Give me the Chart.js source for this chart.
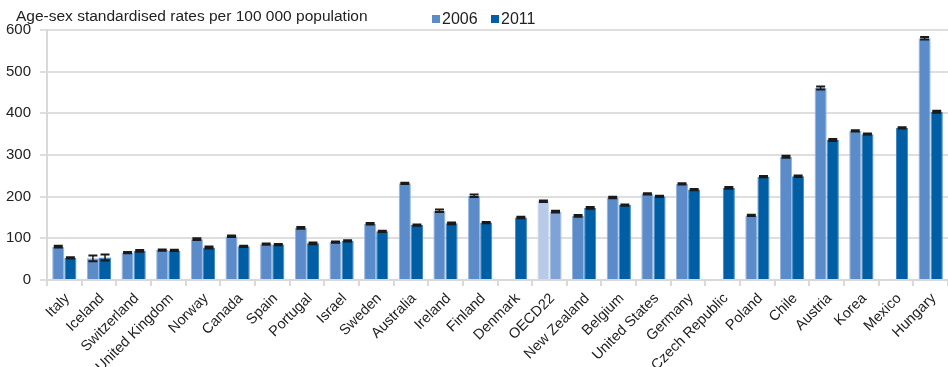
<!DOCTYPE html>
<html>
<head>
<meta charset="utf-8">
<script src="https://cdn.jsdelivr.net/npm/chart.js@4/dist/chart.umd.min.js"></script>
<style>
  html, body { margin: 0; padding: 0; background: #fff; }
  #wrap { width: 948px; height: 367px; position: relative; }
</style>
</head>
<body>
<div id="wrap"><canvas id="c"></canvas></div>
<script>
// Countries ordered by the 2011 rate, OECD average in the middle
const countries = ["Italy", "Iceland", "Switzerland", "United Kingdom", "Norway", "Canada", "Spain",
  "Portugal", "Israel", "Sweden", "Australia", "Ireland", "Finland", "Denmark", "OECD22",
  "New Zealand", "Belgium", "United States", "Germany", "Czech Republic", "Poland", "Chile",
  "Austria", "Korea", "Mexico", "Hungary"];

// Age-sex standardised rates per 100 000 population
const rate2006 = [80, 52, 66, 72, 98, 105, 86, 125, 91, 135, 232, 166, 202, null, 189,
  154, 198, 207, 231, null, 155, 296, 461, 358, null, 580];
const rate2011 = [53, 54, 70, 71, 78, 81, 85, 88, 94, 117, 132, 136, 138, 150, 164,
  173, 180, 201, 217, 221, 248, 249, 336, 350, 365, 404];

// Half-width of the confidence interval around each rate
const err2006 = [2, 7, 1.5, 1.5, 2, 2, 1.5, 2, 1.5, 2, 1.5, 3, 3, null, 2,
  2, 2, 1.5, 1.5, null, 1.5, 2.5, 3.5, 1.5, null, 3];
const err2011 = [1.5, 7, 2, 1.5, 2.5, 1.5, 1.5, 2, 1.5, 1.5, 1.5, 2, 1.5, 2, 2,
  2, 1.5, 1.5, 1.5, 2, 1.5, 2, 2.5, 1.5, 1.5, 2.5];

const yTicks = [0, 100, 200, 300, 400, 500, 600];
const seriesNames = ["2006", "2011"];

const FONT = '"Liberation Sans", Arial, Helvetica, sans-serif';
const TEXT = '#222222';

const fill06 = '#5b8cc9', border06 = '#93b5df';
const fill11 = '#005ea5', border11 = '#3f86c2';
const avgFill06 = '#b8cae7', avgBorder06 = '#d3def0';
const avgFill11 = '#7fa3d6', avgBorder11 = '#a9c2e6';

const isAvg = c => c === 'OECD22';
const colors06 = countries.map(c => isAvg(c) ? avgFill06 : fill06);
const colors11 = countries.map(c => isAvg(c) ? avgFill11 : fill11);
const borders06 = countries.map(c => isAvg(c) ? avgBorder06 : border06);
const borders11 = countries.map(c => isAvg(c) ? avgBorder11 : border11);

// Error bars drawn on top of each bar from the err arrays
const errorBars = {
  id: 'errorBars',
  afterDatasetsDraw(chart) {
    const ctx = chart.ctx;
    const y = chart.scales.y;
    const errs = [err2006, err2011];
    chart.data.datasets.forEach((ds, di) => {
      const meta = chart.getDatasetMeta(di);
      meta.data.forEach((bar, i) => {
        const v = ds.data[i];
        const e = errs[di][i];
        if (v == null || e == null) return;
        const yTop = y.getPixelForValue(v + e);
        const yBot = y.getPixelForValue(v - e);
        const half = 4.5;
        ctx.save();
        ctx.strokeStyle = '#1a1a1a';
        ctx.lineWidth = 1.5;
        ctx.beginPath();
        ctx.moveTo(bar.x, yTop);
        ctx.lineTo(bar.x, yBot);
        ctx.stroke();
        ctx.lineWidth = 2;
        ctx.beginPath();
        ctx.moveTo(bar.x - half, yTop);
        ctx.lineTo(bar.x + half, yTop);
        ctx.moveTo(bar.x - half, yBot);
        ctx.lineTo(bar.x + half, yBot);
        ctx.stroke();
        ctx.restore();
      });
    });
  }
};

// Axis caption and legend along the top edge
const header = {
  id: 'header',
  afterDraw(chart) {
    const ctx = chart.ctx;
    ctx.save();
    ctx.fillStyle = TEXT;
    ctx.font = '15.5px ' + FONT;
    ctx.textBaseline = 'alphabetic';
    ctx.textAlign = 'left';
    ctx.fillText('Age-sex standardised rates per 100 000 population', 16, 21);

    const items = [
      { name: seriesNames[0], color: fill06, x: 432 },
      { name: seriesNames[1], color: fill11, x: 491 }
    ];
    ctx.font = '16px ' + FONT;
    items.forEach(it => {
      ctx.fillStyle = it.color;
      ctx.fillRect(it.x, 15, 8, 8);
      ctx.fillStyle = TEXT;
      ctx.fillText(it.name, it.x + 10, 24);
    });
    ctx.restore();
  }
};

new Chart(document.getElementById('c'), {
  type: 'bar',
  data: {
    labels: countries,
    datasets: [
      {
        label: seriesNames[0],
        data: rate2006,
        backgroundColor: colors06,
        borderColor: borders06,
        borderWidth: 1,
        categoryPercentage: 0.7,
        barPercentage: 1.0
      },
      {
        label: seriesNames[1],
        data: rate2011,
        backgroundColor: colors11,
        borderColor: borders11,
        borderWidth: 1,
        categoryPercentage: 0.7,
        barPercentage: 1.0
      }
    ]
  },
  options: {
    responsive: true,
    maintainAspectRatio: false,
    animation: false,
    layout: { padding: { top: 30, right: 0, bottom: 0, left: 0 } },
    plugins: {
      legend: { display: false },
      title: { display: false },
      tooltip: { enabled: false }
    },
    scales: {
      x: {
        offset: true,
        afterFit(scale) { scale.height = 87; },
        grid: {
          display: true,
          offset: true,
          drawOnChartArea: false,
          drawTicks: true,
          tickLength: 6,
          color: '#d9d9d9',
          lineWidth: 2
        },
        border: { display: true, color: '#d9d9d9', width: 2 },
        ticks: {
          autoSkip: false,
          minRotation: 45,
          maxRotation: 45,
          padding: 4,
          labelOffset: 3,
          color: TEXT,
          font: { family: FONT, size: 14.5 }
        }
      },
      y: {
        min: 0,
        max: 600,
        afterFit(scale) { scale.width = 47; },
        afterBuildTicks(scale) { scale.ticks = yTicks.map(v => ({ value: v })); },
        grid: {
          color: '#dedede',
          lineWidth: 2,
          drawTicks: true,
          tickLength: 7
        },
        border: { display: true, color: '#d9d9d9', width: 2 },
        ticks: {
          padding: 9,
          color: TEXT,
          font: { family: FONT, size: 15 }
        }
      }
    }
  },
  plugins: [errorBars, header]
});
</script>
</body>
</html>
